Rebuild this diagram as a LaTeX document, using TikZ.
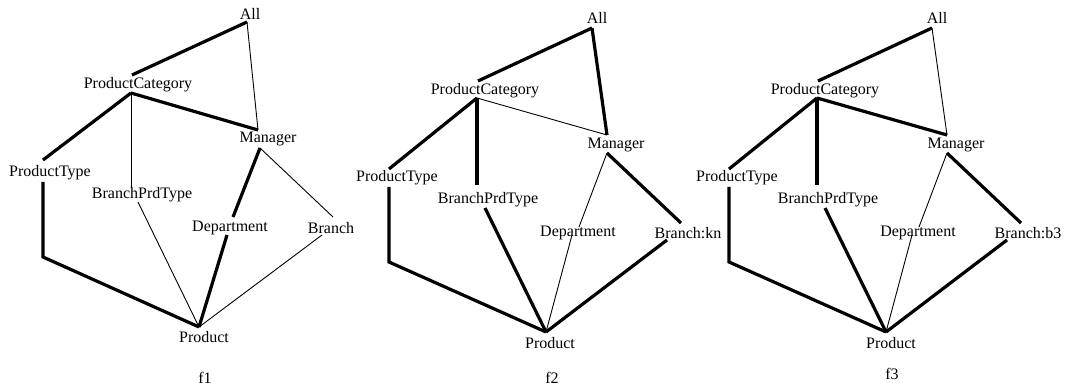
\documentclass[tikz,border=0pt]{standalone}
\usepackage{fontspec}
\setmainfont{Liberation Serif}
\begin{document}
\begin{tikzpicture}[x=1pt,y=-1pt,
  lbl/.style={font=\fontsize{16}{18}\selectfont, inner sep=0pt, yshift=-2pt},
  caption/.style={font=\fontsize{16}{18}\selectfont, inner sep=0pt, anchor=base},
  heavy/.style={line width=3.2pt},
  light/.style={line width=0.9pt}]
\useasboundingbox (0,0) rectangle (1067,387);

% ---------- f1 ----------
\node[lbl] (all1) at (250,12) {All};
\node[lbl] (pc1) at (138,83) {ProductCategory};
\node[lbl] (mg1) at (268,137) {Manager};
\node[lbl] (pt1) at (50,171) {ProductType};
\node[lbl] (bp1) at (142,193) {BranchPrdType};
\node[lbl] (dp1) at (230,226) {Department};
\node[lbl] (br1) at (331,226) {Branch};
\node[lbl] (pr1) at (204,335) {Product};
\node[caption] (cap1) at (205,383) {f1};

\coordinate (all1b) at (247,22);
\coordinate (pc1t) at (132,75);  \coordinate (pc1b) at (131,93);
\coordinate (mg1t) at (258,130); \coordinate (mg1b) at (260,148);
\coordinate (pt1t) at (43,160);  \coordinate (pt1b) at (43,182);
\coordinate (pt1c) at (43,257);
\coordinate (bp1t) at (131,188); \coordinate (bp1b) at (138,202);
\coordinate (dp1t) at (233,217); \coordinate (dp1b) at (227,235);
\coordinate (br1t) at (333,217); \coordinate (br1b) at (322,235);
\coordinate (pr1t) at (199,327);

\draw[heavy] (all1b) -- (pc1t);
\draw[light] (all1b) -- (mg1t);
\draw[heavy] (pc1b) -- (mg1t);
\draw[heavy] (pc1b) -- (pt1t);
\draw[light] (pc1b) -- (bp1t);
\draw[heavy] (mg1b) -- (dp1t);
\draw[light] (mg1b) -- (br1t);
\draw[heavy] (pt1b) -- (pt1c) -- (pr1t);
\draw[light] (bp1b) -- (pr1t);
\draw[heavy] (dp1b) -- (pr1t);
\draw[light] (br1b) -- (pr1t);

% ---------- f2 ----------
\node[lbl] (all2) at (597,16) {All};
\node[lbl] (pc2) at (485,89) {ProductCategory};
\node[lbl] (mg2) at (616,143) {Manager};
\node[lbl] (pt2) at (397,176) {ProductType};
\node[lbl] (bp2) at (488,198) {BranchPrdType};
\node[lbl] (dp2) at (578,231) {Department};
\node[lbl] (br2) at (688,231) {Branch:kn};
\node[lbl] (pr2) at (550,341) {Product};
\node[caption] (cap2) at (552,383) {f2};

\coordinate (all2b) at (592,28);
\coordinate (pc2t) at (478,81);  \coordinate (pc2b) at (477,98);
\coordinate (mg2t) at (607,135); \coordinate (mg2b) at (607,153);
\coordinate (pt2t) at (389,169); \coordinate (pt2b) at (389,187);
\coordinate (pt2c) at (389,262);
\coordinate (bp2t) at (477,185); \coordinate (bp2b) at (485,208);
\coordinate (dp2t) at (579,227); \coordinate (dp2b) at (572,235);
\coordinate (br2t) at (681,223); \coordinate (br2b) at (667,240);
\coordinate (pr2t) at (546,332);

\draw[heavy] (all2b) -- (pc2t);
\draw[heavy] (all2b) -- (mg2t);
\draw[light] (pc2b) -- (mg2t);
\draw[heavy] (pc2b) -- (pt2t);
\draw[heavy] (pc2b) -- (bp2t);
\draw[light] (mg2b) -- (dp2t);
\draw[heavy] (mg2b) -- (br2t);
\draw[heavy] (pt2b) -- (pt2c) -- (pr2t);
\draw[heavy] (bp2b) -- (pr2t);
\draw[light] (dp2b) -- (pr2t);
\draw[heavy] (br2b) -- (pr2t);

% ---------- f3 ----------
\node[lbl] (all3) at (937,16) {All};
\node[lbl] (pc3) at (825,89) {ProductCategory};
\node[lbl] (mg3) at (956,143) {Manager};
\node[lbl] (pt3) at (737,176) {ProductType};
\node[lbl] (bp3) at (828,198) {BranchPrdType};
\node[lbl] (dp3) at (918,231) {Department};
\node[lbl] (br3) at (1028,231) {Branch:b3};
\node[lbl] (pr3) at (891,341) {Product};
\node[caption] (cap3) at (892,379) {f3};

\coordinate (all3b) at (932,28);
\coordinate (pc3t) at (818,81);  \coordinate (pc3b) at (817,98);
\coordinate (mg3t) at (947,135); \coordinate (mg3b) at (947,153);
\coordinate (pt3t) at (729,169); \coordinate (pt3b) at (729,187);
\coordinate (pt3c) at (729,262);
\coordinate (bp3t) at (817,185); \coordinate (bp3b) at (825,208);
\coordinate (dp3t) at (919,227); \coordinate (dp3b) at (912,235);
\coordinate (br3t) at (1021,223); \coordinate (br3b) at (1007,240);
\coordinate (pr3t) at (886,332);

\draw[heavy] (all3b) -- (pc3t);
\draw[light] (all3b) -- (mg3t);
\draw[heavy] (pc3b) -- (mg3t);
\draw[heavy] (pc3b) -- (pt3t);
\draw[heavy] (pc3b) -- (bp3t);
\draw[light] (mg3b) -- (dp3t);
\draw[heavy] (mg3b) -- (br3t);
\draw[heavy] (pt3b) -- (pt3c) -- (pr3t);
\draw[heavy] (bp3b) -- (pr3t);
\draw[light] (dp3b) -- (pr3t);
\draw[heavy] (br3b) -- (pr3t);
\end{tikzpicture}
\end{document}
